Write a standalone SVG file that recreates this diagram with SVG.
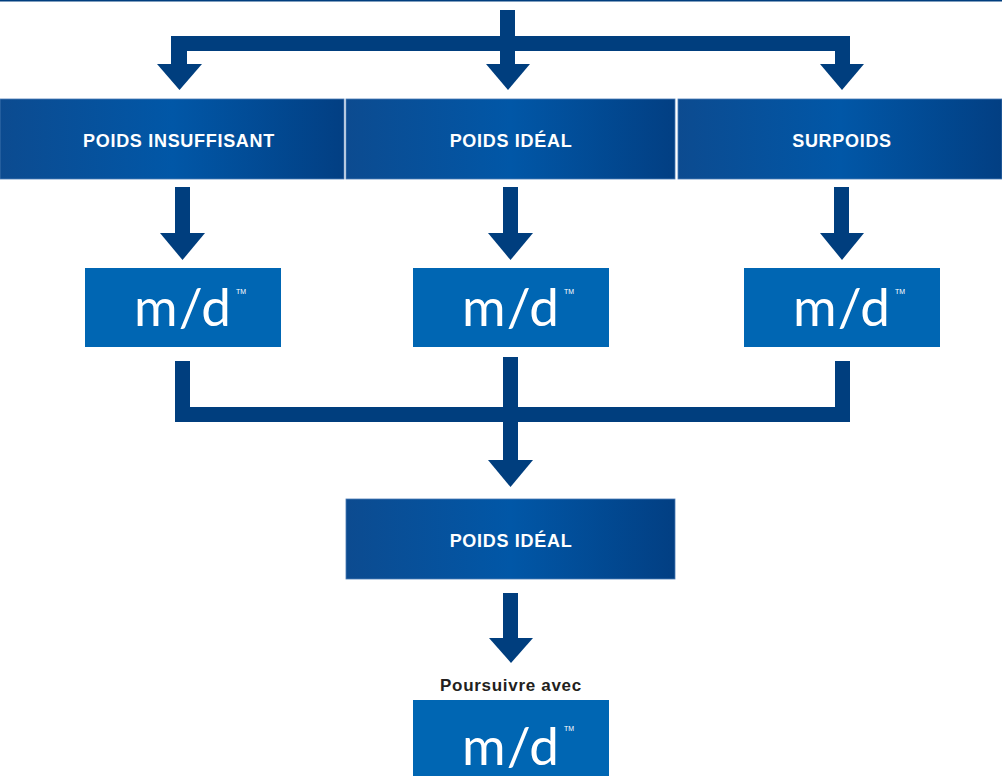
<svg xmlns="http://www.w3.org/2000/svg" width="1002" height="776" viewBox="0 0 1002 776">
<defs>
<linearGradient id="hg" x1="0" y1="0" x2="1" y2="0">
<stop offset="0" stop-color="#0c4b90"/>
<stop offset="0.5" stop-color="#0157a7"/>
<stop offset="1" stop-color="#023f83"/>
</linearGradient>
<style>
.hb{fill:url(#hg);stroke:#4a7bb5;stroke-width:0.8}
.ht{font-family:"Liberation Sans",Arial,sans-serif;font-weight:bold;font-size:18px;fill:#fff;text-anchor:middle;letter-spacing:0.7px}
.mb{fill:#0066b3}
.mt{font-family:Lato,"Open Sans",sans-serif;font-weight:400;font-size:53px;fill:#fff;text-anchor:middle;letter-spacing:1px}
.tm{font-family:"Liberation Sans",Arial,sans-serif;font-size:7px;fill:#fff}
.ar{fill:#003e7e}
.lb{font-family:"Liberation Sans",Arial,sans-serif;font-weight:bold;font-size:17px;fill:#231f20;text-anchor:middle;letter-spacing:0.7px}
</style>
</defs>
<rect x="0" y="0" width="1002" height="1.5" fill="#003e7e"/>
<g id="connectors" class="ar">
<rect x="500" y="10" width="15" height="54"/>
<rect x="171" y="36" width="679" height="15"/>
<rect x="171" y="36" width="16" height="28"/>
<rect x="835" y="36" width="15" height="28"/>
<polygon points="157,64 202,64 179.5,90"/>
<polygon points="486,64 530,64 508,90"/>
<polygon points="820,64 864,64 842,90"/>
<rect x="175" y="187" width="15" height="46"/>
<polygon points="160,233 205,233 182.5,260"/>
<rect x="503" y="187" width="15" height="46"/>
<polygon points="488,233 533,233 510.5,260"/>
<rect x="834" y="187" width="15" height="46"/>
<polygon points="820,233 864,233 842,260"/>
<rect x="175" y="361" width="15" height="61"/>
<rect x="175" y="407" width="675" height="15"/>
<rect x="835" y="361" width="15" height="61"/>
<rect x="503" y="357" width="15" height="103"/>
<polygon points="488,460 533,460 510.5,487"/>
<rect x="503" y="593" width="15" height="45"/>
<polygon points="489,638 533,638 511,663"/>
</g>
<g id="n-insuffisant"><rect class="hb" x="0" y="99" width="344" height="80"/><text class="ht" x="179" y="147">POIDS INSUFFISANT</text></g>
<g id="n-ideal"><rect class="hb" x="346" y="99" width="329" height="80"/><text class="ht" x="511" y="147">POIDS IDÉAL</text></g>
<g id="n-surpoids"><rect class="hb" x="678" y="99" width="324" height="80"/><text class="ht" x="842" y="147">SURPOIDS</text></g>
<g id="n-md1"><rect class="mb" x="85" y="268" width="196" height="79"/><text class="mt" x="183" y="326">m/d</text><text class="tm" x="236" y="294">TM</text></g>
<g id="n-md2"><rect class="mb" x="413" y="268" width="196" height="79"/><text class="mt" x="511" y="326">m/d</text><text class="tm" x="564" y="294">TM</text></g>
<g id="n-md3"><rect class="mb" x="744" y="268" width="196" height="79"/><text class="mt" x="842" y="326">m/d</text><text class="tm" x="895" y="294">TM</text></g>
<g id="n-ideal2"><rect class="hb" x="346" y="499" width="329" height="80"/><text class="ht" x="511" y="547">POIDS IDÉAL</text></g>
<g id="n-md4"><text class="lb" x="511" y="691">Poursuivre avec</text><rect class="mb" x="413" y="700" width="196" height="76"/><text class="mt" x="511" y="765">m/d</text><text class="tm" x="564" y="731">TM</text></g>
</svg>
